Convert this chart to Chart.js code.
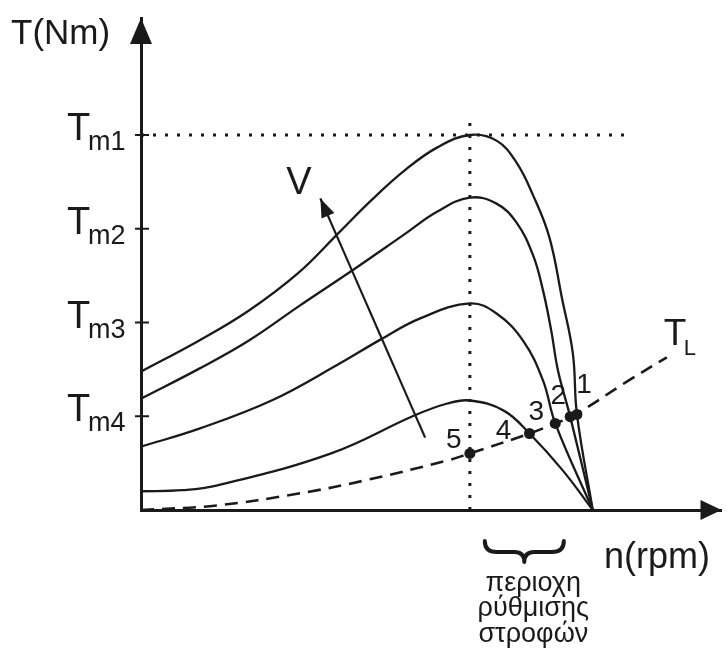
<!DOCTYPE html>
<html><head><meta charset="utf-8">
<script src="https://cdn.jsdelivr.net/npm/chart.js@4.4.1/dist/chart.umd.min.js"></script>
<style>html,body{margin:0;padding:0;background:#fff;}canvas{display:block;}</style>
</head><body>
<canvas id="c" width="727" height="657"></canvas>
<script>
// ---- data (speed n in % of synchronous speed, torque T in arbitrary units) ----
const speed1  = [0, 12.9, 23.9, 34.9, 43.6, 50.9, 58.3, 65.6, 72.8, 78.7, 83.1, 86.8, 90.4, 93.2, 95.6, 96.5, 100];
const torque1 = [36.9, 45.2, 53.2, 63.3, 73.7, 82.5, 90.5, 96.7, 100, 98.5, 92.7, 83.9, 72.7, 56.4, 41.7, 25.5, 0];
const speed2  = [0, 12.9, 23.9, 34.9, 47.4, 58.3, 65.6, 72.8, 78.7, 83.1, 86.8, 89.0, 90.8, 92.3, 95.0, 100];
const torque2 = [29.7, 37.7, 45.2, 54.3, 64.4, 73.5, 79.6, 83.3, 81.7, 76.7, 67.9, 58.5, 47.9, 37.2, 24.9, 0];
const speed3  = [0, 12.9, 28.9, 43.6, 53.1, 61.8, 72.8, 78.7, 84.6, 89.0, 91.7, 100];
const torque3 = [16.9, 21.7, 29.2, 38.8, 45.5, 51.1, 55.1, 52.4, 45.1, 34.5, 23.1, 0];
const speed4  = [0, 9.2, 16.7, 42.1, 60.5, 67.8, 72.8, 80.3, 86.0, 93.4, 100];
const torque4 = [5.0, 5.3, 6.5, 15.1, 25.2, 28.4, 29.2, 26.5, 20.4, 10.5, 0];
const loadSpeed  = [0, 16.7, 34.9, 49.6, 67.8, 72.8, 86.0, 91.7, 95.8, 107.9, 116.4];
const loadTorque = [0, 1.2, 4.4, 7.9, 13.2, 15.1, 20.4, 23.1, 25.2, 34.5, 40.7];
const opSpeed  = [96.5, 95.0, 91.7, 86.0, 72.8];
const opTorque = [25.5, 24.9, 23.1, 20.4, 15.1];
const opLabels = ['1', '2', '3', '4', '5'];
const tickValues = [100, 75, 50, 25];
const tickLabels = ['Tm1', 'Tm2', 'Tm3', 'Tm4'];
const vArrowSpeed  = [62.9, 39.7];
const vArrowTorque = [19.3, 83.1];
const peakSpeed = 72.8;
const tm1Guide = [0, 107.2];
const peakGuideTop = 104.8;
const nMax = 128.5, tMax = 131.2;

const zip = (xs, ys) => xs.map((v, i) => ({x: v, y: ys[i]}));
const FONT = '"Liberation Sans", Arial, Helvetica, sans-serif';
const INK = '#1a1a1a';

const curve = (xs, ys) => ({
  data: zip(xs, ys), showLine: true, borderColor: INK, borderWidth: 2.3, pointRadius: 0,
  tension: 0.4, fill: false, clip: false
});

const opOffsets = [[7, -31], [-12, -23], [-19, -13], [-26, -5], [-16, -15]];

const decor = {
  id: 'decor',
  afterDraw(chart) {
    const {ctx, scales: {x, y}, chartArea: a} = chart;
    const x0 = x.getPixelForValue(0), y0 = y.getPixelForValue(0);
    ctx.save();
    ctx.fillStyle = INK; ctx.strokeStyle = INK;
    // axis arrowheads
    ctx.beginPath(); ctx.moveTo(x0, a.top); ctx.lineTo(x0 - 11, a.top + 26); ctx.lineTo(x0 + 11, a.top + 26); ctx.closePath(); ctx.fill();
    ctx.beginPath(); ctx.moveTo(a.right, y0); ctx.lineTo(a.right - 21, y0 - 10); ctx.lineTo(a.right - 21, y0 + 10); ctx.closePath(); ctx.fill();
    // y ticks and labels
    ctx.lineWidth = 2;
    ctx.textAlign = 'left'; ctx.textBaseline = 'alphabetic';
    tickValues.forEach((v, i) => {
      const py = y.getPixelForValue(v);
      ctx.beginPath(); ctx.moveTo(x0 - 6, py); ctx.lineTo(x0 + 8, py); ctx.stroke();
      ctx.font = '38px ' + FONT;
      ctx.fillText(tickLabels[i].charAt(0), x0 - 74, py + 5);
      ctx.font = '27px ' + FONT;
      ctx.fillText(tickLabels[i].slice(1), x0 - 53, py + 15);
    });
    // axis titles
    ctx.font = '35px ' + FONT;
    ctx.fillText('T(Nm)', 11, 44);
    ctx.font = '36px ' + FONT;
    ctx.fillText('n(rpm)', 604, 568);
    // T_L label
    const lx = x.getPixelForValue(loadSpeed[loadSpeed.length - 1]);
    const ly = y.getPixelForValue(loadTorque[loadTorque.length - 1]);
    ctx.font = '37px ' + FONT;
    ctx.fillText('T', lx - 3, ly - 12);
    ctx.font = '22px ' + FONT;
    ctx.fillText('L', lx + 17, ly - 2);
    // V arrow head + label
    const tx = x.getPixelForValue(vArrowSpeed[1]), ty = y.getPixelForValue(vArrowTorque[1]);
    const sx = x.getPixelForValue(vArrowSpeed[0]), sy = y.getPixelForValue(vArrowTorque[0]);
    const len = Math.hypot(tx - sx, ty - sy), ux = (tx - sx) / len, uy = (ty - sy) / len;
    const bx = tx - ux * 19, by = ty - uy * 19;
    ctx.beginPath(); ctx.moveTo(tx, ty); ctx.lineTo(bx - uy * 7, by + ux * 7); ctx.lineTo(bx + uy * 7, by - ux * 7); ctx.closePath(); ctx.fill();
    ctx.font = '38px ' + FONT;
    ctx.fillText('V', tx - 34, ty - 4);
    // operating point labels
    ctx.font = '28px ' + FONT; ctx.textAlign = 'center';
    opLabels.forEach((lab, i) => {
      const px = x.getPixelForValue(opSpeed[i]) + opOffsets[i][0];
      const py = y.getPixelForValue(opTorque[i]) + opOffsets[i][1];
      ctx.fillText(lab, px, py + 10);
    });
    // brace under the speed-control range
    const b1 = x.getPixelForValue(76.1), b2 = x.getPixelForValue(93.6), bm = (b1 + b2) / 2;
    const bt = y0 + 31, bh = 11;
    ctx.lineWidth = 4; ctx.lineCap = 'round'; ctx.lineJoin = 'round';
    ctx.beginPath();
    ctx.moveTo(b1, bt);
    ctx.quadraticCurveTo(b1, bt + bh, b1 + 12, bt + bh);
    ctx.lineTo(bm - 10, bt + bh);
    ctx.quadraticCurveTo(bm, bt + bh, bm, bt + bh + 10);
    ctx.quadraticCurveTo(bm, bt + bh, bm + 10, bt + bh);
    ctx.lineTo(b2 - 12, bt + bh);
    ctx.quadraticCurveTo(b2, bt + bh, b2, bt);
    ctx.stroke();
    ctx.font = '27px ' + FONT;
    ctx.fillText('περιοχη', bm + 9, 591);
    ctx.fillText('ρύθμισης', bm + 9, 616);
    ctx.fillText('στροφών', bm + 9, 642);
    ctx.restore();
  }
};

new Chart(document.getElementById('c'), {
  type: 'scatter',
  data: {
    datasets: [
      {data: zip(tm1Guide, [tickValues[0], tickValues[0]]), showLine: true, borderColor: INK, borderWidth: 3, borderDash: [3, 9], pointRadius: 0, clip: false},
      {data: zip([peakSpeed, peakSpeed], [0, peakGuideTop]), showLine: true, borderColor: INK, borderWidth: 3, borderDash: [3, 9], pointRadius: 0, clip: false},
      curve(speed1, torque1),
      curve(speed2, torque2),
      curve(speed3, torque3),
      curve(speed4, torque4),
      Object.assign(curve(loadSpeed, loadTorque), {borderDash: [13, 8], borderWidth: 2.6}),
      {data: zip(vArrowSpeed, vArrowTorque), showLine: true, borderColor: INK, borderWidth: 2.2, pointRadius: 0, tension: 0, clip: false},
      {data: zip(opSpeed, opTorque), showLine: false, pointRadius: 5.5, pointBackgroundColor: INK, pointBorderColor: INK, pointBorderWidth: 0, clip: false}
    ]
  },
  options: {
    responsive: false, devicePixelRatio: 1, animation: false,
    layout: {padding: {top: 18, right: 0, left: 0, bottom: 0}},
    plugins: {legend: {display: false}, tooltip: {enabled: false}},
    scales: {
      x: {type: 'linear', min: 0, max: nMax, grid: {display: false}, ticks: {display: false},
          border: {display: true, color: INK, width: 3},
          afterFit: s => { s.height = 147; }},
      y: {type: 'linear', min: 0, max: tMax, grid: {display: false}, ticks: {display: false},
          border: {display: true, color: INK, width: 3},
          afterFit: s => { s.width = 141; }}
    }
  },
  plugins: [decor]
});
</script></body></html>
